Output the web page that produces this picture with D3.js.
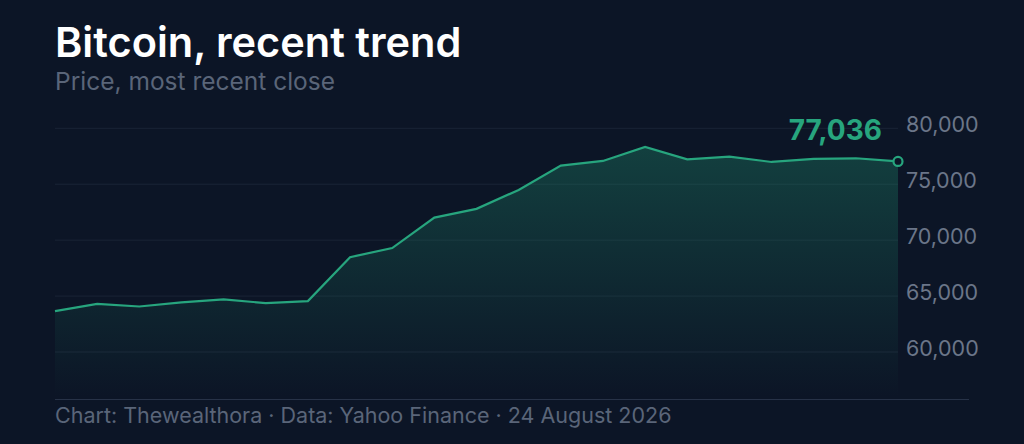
<!DOCTYPE html>
<html>
<head>
<meta charset="utf-8">
<script src="https://cdn.jsdelivr.net/npm/d3@7"></script>
<style>
  html, body { margin: 0; padding: 0; background: #0c1526; }
  svg { display: block; font-family: Inter, "Noto Sans", sans-serif; }
</style>
</head>
<body>
<script>
// Daily closes, oldest to newest
const days = d3.range(21);
const closes = [63660, 64310, 64070, 64430, 64700, 64370, 64550, 68480, 69290, 72020,
                72800, 74490, 76660, 77080, 78330, 77230, 77470, 76990, 77260, 77320, 77036];
const yTicks = [60000, 65000, 70000, 75000, 80000];

const width = 1024, height = 444;
const svg = d3.select("body").append("svg").attr("width", width).attr("height", height);

const x = d3.scaleLinear().domain([0, 20]).range([55, 898]);
const y = d3.scaleLinear().domain([60000, 80000]).range([352, 128.3]);

const defs = svg.append("defs");
const grad = defs.append("linearGradient").attr("id", "fill").attr("x1", 0).attr("x2", 0).attr("y1", 0).attr("y2", 1);
grad.append("stop").attr("offset", "0%").attr("stop-color", "#1f8f6e").attr("stop-opacity", 0.35);
grad.append("stop").attr("offset", "100%").attr("stop-color", "#1f8f6e").attr("stop-opacity", 0);

// Gridlines
svg.selectAll("line.grid").data(yTicks).enter().append("line")
  .attr("x1", 55).attr("x2", 898)
  .attr("y1", d => y(d)).attr("y2", d => y(d))
  .attr("stroke", "#1a2436").attr("stroke-width", 1);

// Tick labels
svg.selectAll("text.tick").data(yTicks).enter().append("text")
  .attr("x", 906).attr("y", d => y(d) + 4)
  .attr("fill", "#6b7689").attr("font-size", 21.5)
  .text(d => d3.format(",")(d));

// Area and line
const area = d3.area().x((d, i) => x(days[i])).y0(y(56000)).y1(d => y(d));
svg.append("path").datum(closes).attr("d", area).attr("fill", "url(#fill)");

const line = d3.line().x((d, i) => x(days[i])).y(d => y(d));
svg.append("path").datum(closes).attr("d", line)
  .attr("fill", "none").attr("stroke", "#27a57e").attr("stroke-width", 2.2);

// Last point marker
const last = closes[closes.length - 1];
svg.append("circle").attr("cx", x(20)).attr("cy", y(last)).attr("r", 4.5)
  .attr("fill", "#0c1526").attr("stroke", "#27a57e").attr("stroke-width", 2.2);
svg.append("text").attr("x", 882).attr("y", 140)
  .attr("text-anchor", "end").attr("fill", "#27a57e")
  .attr("font-size", 28).attr("font-weight", 700)
  .text(d3.format(",")(last));

// Bottom axis rule
svg.append("line").attr("x1", 55).attr("x2", 969).attr("y1", 399.5).attr("y2", 399.5)
  .attr("stroke", "#273247").attr("stroke-width", 1);

// Titles
svg.append("text").attr("x", 55).attr("y", 57).attr("fill", "#ffffff")
  .attr("font-size", 41.5).attr("font-weight", 600).text("Bitcoin, recent trend");
svg.append("text").attr("x", 55).attr("y", 90).attr("fill", "#5a6579")
  .attr("font-size", 24.5).text("Price, most recent close");
svg.append("text").attr("x", 55).attr("y", 423).attr("fill", "#5a6579")
  .attr("font-size", 21.5).text("Chart: Thewealthora · Data: Yahoo Finance · 24 August 2026");
</script>
</body>
</html>
